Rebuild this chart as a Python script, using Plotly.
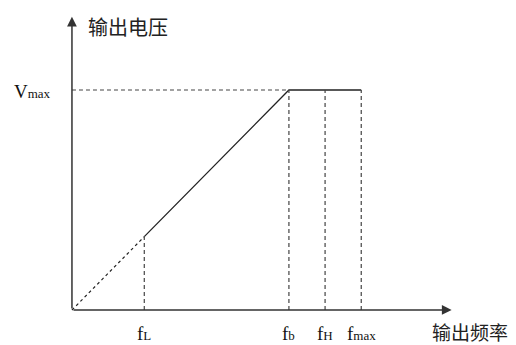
import plotly.graph_objects as go

# V/f curve key points (arbitrary units)
F_LOW = 2.0
F_BASE = 6.0
F_HIGH = 7.0
F_MAX = 8.0
V_MAX = 6.0

freq_marks = [F_LOW, F_BASE, F_HIGH, F_MAX]
freq_subs = ["L", "b", "H", "max"]
mark_heights = [V_MAX * F_LOW / F_BASE, V_MAX, V_MAX, V_MAX]

X_END = 10.5
Y_END = 8.0

SERIF = "Liberation Serif, Times New Roman, serif"
CJK = "Noto Sans CJK SC, sans-serif"
LINE = "#222"
GUIDE = "#444"
DASH = "4px,3px"


def small(s):
    # subscript-like text that stays on the baseline, as in the original
    return f'<span style="font-size:13px">{s}</span>'


fig = go.Figure()

# dotted part below f_L
fig.add_trace(go.Scatter(
    x=[0, F_LOW], y=[0, mark_heights[0]], mode="lines",
    line=dict(color=LINE, width=1.2, dash="dot"), hoverinfo="skip",
))
# solid ramp + flat part
fig.add_trace(go.Scatter(
    x=[F_LOW, F_BASE, F_MAX], y=[mark_heights[0], V_MAX, V_MAX], mode="lines",
    line=dict(color=LINE, width=1.3), hoverinfo="skip",
))
# dashed guide from the y axis to the knee
fig.add_trace(go.Scatter(
    x=[0, F_BASE], y=[V_MAX, V_MAX], mode="lines",
    line=dict(color=GUIDE, width=1.2, dash=DASH), hoverinfo="skip",
))
# dashed drop lines at each frequency mark
for f, h in zip(freq_marks, mark_heights):
    fig.add_trace(go.Scatter(
        x=[f, f], y=[0, h], mode="lines",
        line=dict(color=GUIDE, width=1.2, dash=DASH), hoverinfo="skip",
    ))

annotations = []
# axes with arrow heads
annotations.append(dict(
    x=X_END, y=0, ax=0, ay=0, xref="x", yref="y", axref="x", ayref="y",
    showarrow=True, arrowhead=2, arrowsize=1.3, arrowwidth=1.5, arrowcolor="#333", text="",
))
annotations.append(dict(
    x=0, y=Y_END, ax=0, ay=0, xref="x", yref="y", axref="x", ayref="y",
    showarrow=True, arrowhead=2, arrowsize=1.3, arrowwidth=1.5, arrowcolor="#333", text="",
))

for f, sub in zip(freq_marks, freq_subs):
    annotations.append(dict(
        x=f, y=-0.64, xref="x", yref="y", text="f" + small(sub), showarrow=False,
        font=dict(family=SERIF, size=19, color="#111"),
    ))

annotations.append(dict(
    x=-1.09, y=5.96, xref="x", yref="y", text="V" + small("max"), showarrow=False,
    font=dict(family=SERIF, size=19, color="#111"),
))
annotations.append(dict(
    x=0.4, y=7.72, xref="x", yref="y", text="输出电压", showarrow=False, xanchor="left",
    font=dict(family=CJK, size=20, color="#222"),
))
annotations.append(dict(
    x=12.12, y=-0.58, xref="x", yref="y", text="输出频率", showarrow=False, xanchor="right",
    font=dict(family=CJK, size=19, color="#222"),
))

# axis ranges chosen so the origin lands near (72, 310) px
fig.update_layout(
    width=516, height=345,
    margin=dict(l=0, r=0, t=0, b=0),
    paper_bgcolor="white", plot_bgcolor="white",
    showlegend=False,
    xaxis=dict(range=[-1.99, 12.28], visible=False, fixedrange=True),
    yaxis=dict(range=[-0.955, 8.455], visible=False, fixedrange=True),
    annotations=annotations,
)

fig.write_html(
    "out.html",
    config={"displayModeBar": False},
    post_script="document.body.style.margin='0';",
)
